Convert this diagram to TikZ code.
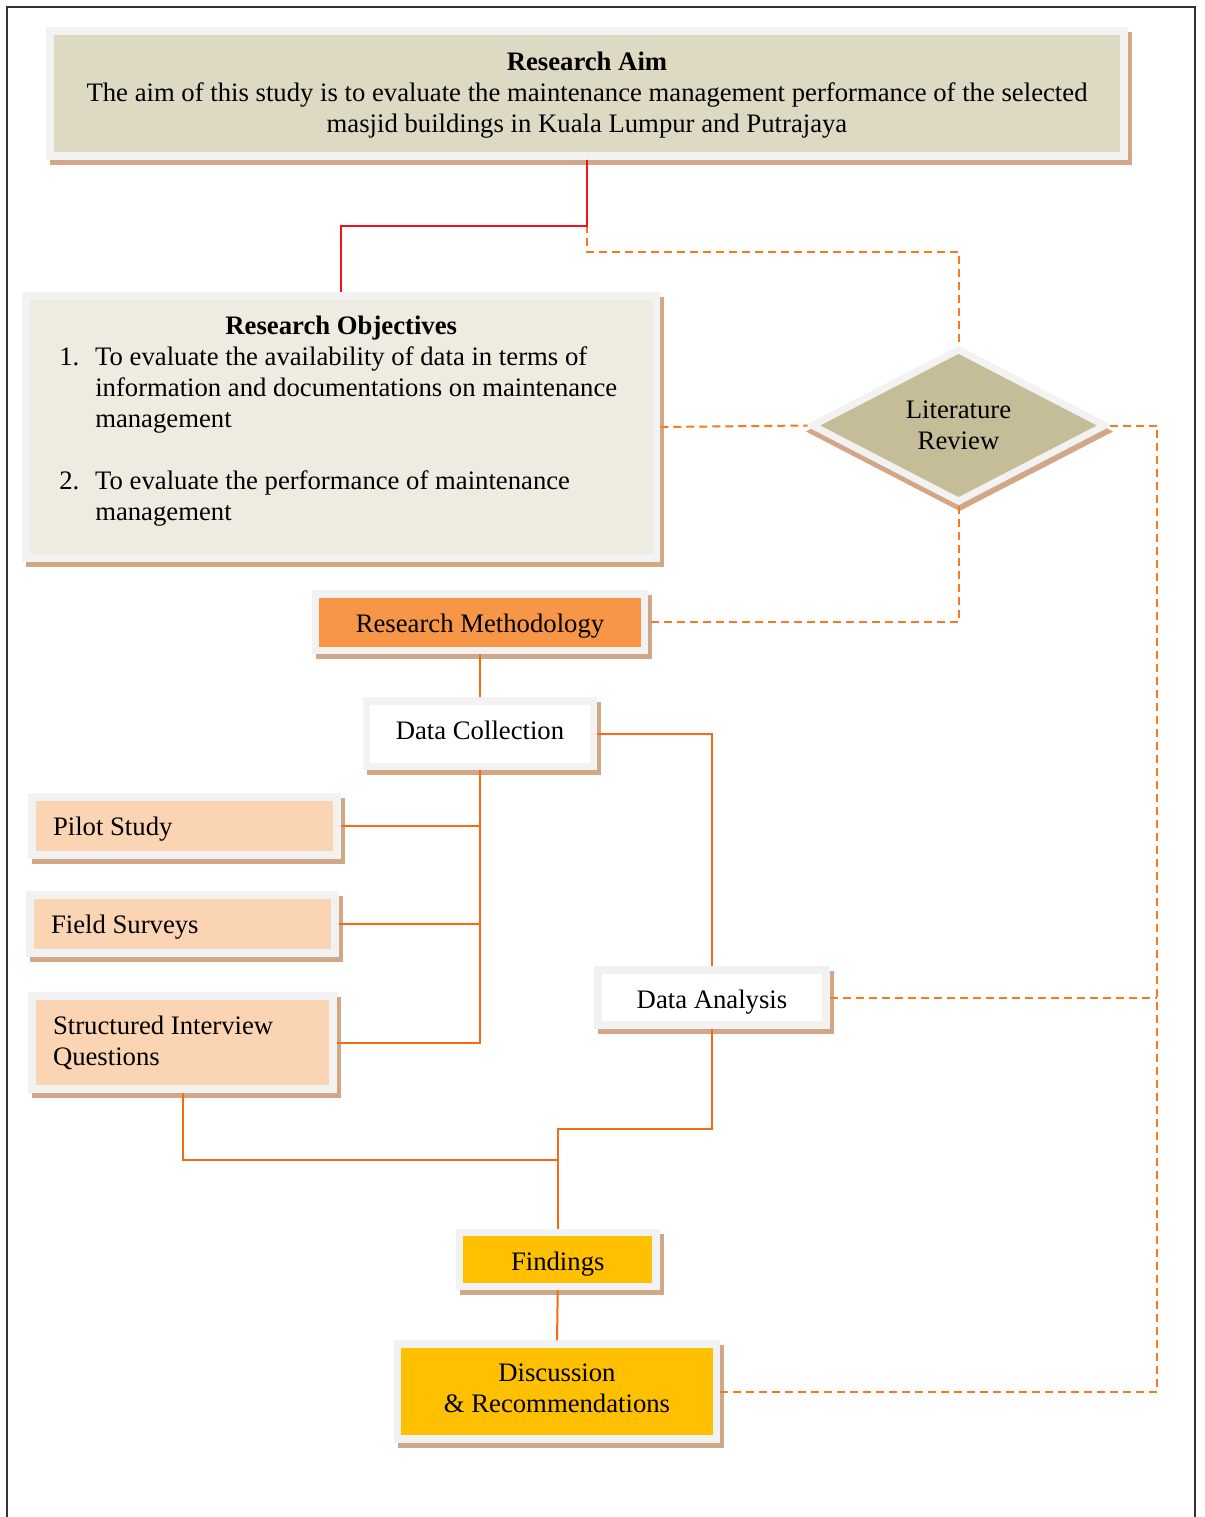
\documentclass[tikz,border=0pt]{standalone}
\usepackage{fontspec}
\setmainfont{Liberation Serif}
\usetikzlibrary{shapes.geometric,shadows}
\definecolor{grayb}{HTML}{F2F2F2}
\definecolor{shc}{HTML}{D2A787}
\definecolor{aimfill}{HTML}{DDD9C3}
\definecolor{objfill}{HTML}{EEECE1}
\definecolor{litfill}{HTML}{C4BD97}
\definecolor{methfill}{HTML}{F79646}
\definecolor{lightor}{HTML}{FBD4B4}
\definecolor{gold}{HTML}{FFC000}
\definecolor{solidor}{HTML}{F86A12}
\definecolor{dashor}{HTML}{F8791E}
\definecolor{redc}{HTML}{F2121C}
\definecolor{framec}{HTML}{333333}
\tikzset{
  box/.style={draw=grayb, line width=7.5pt, inner sep=0pt, align=center,
    font=\fontsize{26.7}{31}\selectfont,
    drop shadow={shadow xshift=4pt, shadow yshift=-5pt, fill=shc, draw=shc, line width=7.5pt, opacity=1}},
  diam/.style={diamond, draw=grayb, line width=7pt, inner sep=0pt, align=center,
    font=\fontsize{26.7}{31}\selectfont,
    drop shadow={shadow xshift=1pt, shadow yshift=-6pt, fill=shc, draw=shc, line width=7pt, opacity=1}},
  solidline/.style={draw=solidor, line width=2pt},
  dashline/.style={draw=dashor, line width=2pt, dash pattern=on 8pt off 5pt},
  redline/.style={draw=redc, line width=2pt}
}
\begin{document}
\begin{tikzpicture}[x=1pt,y=-1pt]
\useasboundingbox (0,0) rectangle (1204,1517);
\fill[white] (0,0) rectangle (1204,1517);
\draw[framec, line width=2pt] (7,1517) -- (7,7) -- (1195,7) -- (1195,1517);

% nodes
\node[box, fill=aimfill, minimum width=1074pt, minimum height=125pt] (aim) at (587,93.5)
  {\rule{0pt}{21.5pt}\textbf{Research Aim}\\The aim of this study is to evaluate the maintenance management performance of the selected\\masjid buildings in Kuala Lumpur and Putrajaya};

\node[box, fill=objfill, minimum width=630.5pt, minimum height=262pt, text width=564pt, align=flush left] (obj) at (341.25,427)
  {\makebox[564pt]{\bfseries Research Objectives}\\
   \makebox[36pt][l]{1.}To evaluate the availability of data in terms of\\
   \hspace*{36pt}information and documentations on maintenance\\
   \hspace*{36pt}management\\[31pt]
   \makebox[36pt][l]{2.}To evaluate the performance of maintenance\\
   \hspace*{36pt}management\rule[-18pt]{0pt}{1pt}};

\node[diam, fill=litfill, minimum width=295pt, minimum height=151.5pt] (lit) at (958.5,425.5)
  {Literature\\Review};

\node[box, fill=methfill, minimum width=329pt, minimum height=56.5pt, text height=26.6pt, text depth=6pt] (meth) at (480,622.25)
  {Research Methodology};

\node[box, fill=white, minimum width=227pt, minimum height=65.5pt, text height=18.3pt, text depth=6pt] (dc) at (480,733.75)
  {Data Collection};

\node[box, fill=lightor, minimum width=305pt, minimum height=58pt, text width=263pt, align=flush left, text height=24.6pt, text depth=6pt] (pilot) at (184.5,826)
  {Pilot Study};

\node[box, fill=lightor, minimum width=305pt, minimum height=58pt, text width=263pt, align=flush left, text height=24.6pt, text depth=6pt] (field) at (182.5,924)
  {Field Surveys};

\node[box, fill=lightor, minimum width=301pt, minimum height=93pt, text width=259pt, align=flush left] (sq) at (182.5,1042.5)
  {Structured Interview\\Questions};

\node[box, fill=white, minimum width=228pt, minimum height=55pt, text height=28.6pt, text depth=6pt] (da) at (712,997.5)
  {Data Analysis};

\node[box, fill=gold, minimum width=196.5pt, minimum height=54pt, text height=28.6pt, text depth=6pt] (find) at (557.75,1259.5)
  {Findings};

\node[box, fill=gold, minimum width=319pt, minimum height=95pt] (disc) at (557,1391.5)
  {Discussion\\\& Recommendations\rule[-6pt]{0pt}{6pt}};

\coordinate (rail) at (1157,0);

% connectors
\draw[dashline] (aim.south) -- ++(0,92) -| (lit.north);
\draw[redline] (aim.south) -- ++(0,66) -| (obj.north);
\draw[dashline] (obj.east) -- (lit.west);
\draw[dashline] (lit.east) -- (lit.east -| rail) -- (rail |- disc.east) -- (disc.east);
\draw[dashline] (da.east) -- (da.east -| rail);
\draw[dashline] (lit.south) |- (meth.east);
\draw[solidline] (meth.south) -- (dc.north);
\draw[solidline] (dc.east) -| (da.north);
\draw[solidline] (dc.south) |- (sq.east);
\draw[solidline] (pilot.east) -- (pilot.east -| dc.south);
\draw[solidline] (field.east) -- (field.east -| dc.south);
\draw[solidline] (da.south) -- ++(0,100) -| (find.north);
\draw[solidline] (sq.south) -- ++(0,67) -| (find.north);
\draw[solidline] (find.south) -- (disc.north);
\end{tikzpicture}
\end{document}
